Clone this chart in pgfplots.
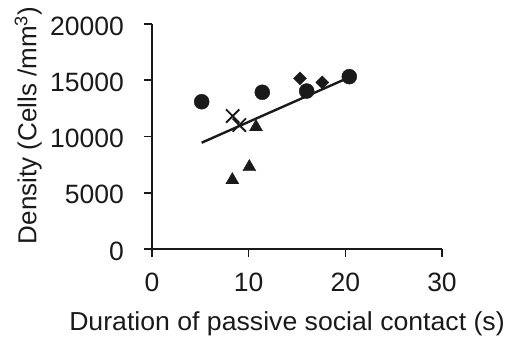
\documentclass[border=0pt]{standalone}
\usepackage{fontspec}
\setmainfont{Liberation Sans}
\usepackage{pgfplots}
\pgfplotsset{compat=1.18}
\definecolor{mk}{HTML}{1A1A1A}
\begin{document}
\fontsize{26}{31}\selectfont
\begin{tikzpicture}
\path[use as bounding box] (-152pt,-88pt) rectangle (353pt,249pt);
\begin{axis}[
  scale only axis,
  width=290pt, height=225pt,
  xmin=0, xmax=30, ymin=0, ymax=20000,
  axis lines=left,
  axis line style={-, line width=1.6pt, color=mk},
  tick style={line width=1.6pt, color=mk},
  tick align=outside,
  major tick length=8pt,
  xtick={0,10,20,30},
  ytick={0,5000,10000,15000,20000},
  scaled ticks=false,
  /pgf/number format/assume math mode=true,
  /pgf/number format/1000 sep={},
  every tick label/.style={inner sep=0pt, text=mk, font=\fontsize{26.5}{31}\selectfont},
  xticklabel style={anchor=north, yshift=-16pt},
  yticklabel style={anchor=east, xshift=-20pt, yshift=-2pt},
  xlabel={Duration of passive social contact (s)},
  ylabel={Density (Cells /mm\textsuperscript{3})},
  every axis x label/.style={at={(axis description cs:0.4655,-0.36)}, anchor=base, inner sep=0pt, text=mk, font=\addfontfeatures{FakeStretch=1.025}},
  every axis y label/.style={at={(axis description cs:-0.399,0.549)}, anchor=base, rotate=90, inner sep=0pt, text=mk},
  clip=false,
]
% circles
\addplot[only marks, mark=*, mark size=7.5pt, mk, mark options={fill=mk, draw=mk}] coordinates {
(5.14,13090) (11.41,13930) (16.0,14040) (20.41,15320)
};
% diamonds
\addplot[only marks, mark=square*, mark size=4.6pt, mk, mark options={rotate=45, fill=mk, draw=mk}] coordinates {
(15.31,15170) (17.62,14810)
};
% crosses
\addplot[only marks, mark=x, mark size=9.4pt, mk, mark options={line width=1.8pt, draw=mk}] coordinates {
(8.35,11820) (9.03,11020)
};
% triangles
\addplot[only marks, mark=triangle*, mark size=7.5pt, mk, mark options={fill=mk, draw=mk}] coordinates {
(10.76,10840) (10.07,7290) (8.31,6130)
};
% regression line
\addplot[mk, line width=2.4pt, no marks] coordinates {
(5.14,9450) (20.41,15260)
};
\end{axis}
\end{tikzpicture}
\end{document}
